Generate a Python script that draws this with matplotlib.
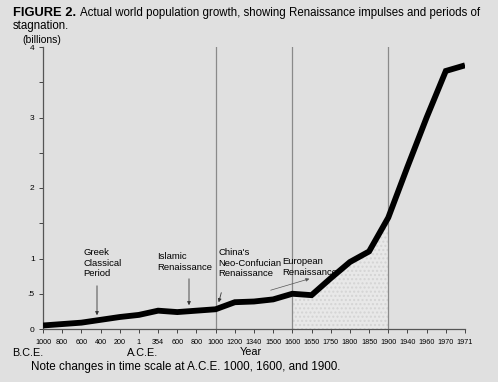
import matplotlib
matplotlib.use("Agg")
import matplotlib.pyplot as plt
import numpy as np

plt.rcParams['font.family'] = ['Liberation Sans', 'DejaVu Sans']

tick_labels = ['1000', '800', '600', '400', '200', '1', '354', '600', '800', '1000',
               '1200', '1340', '1500', '1600', '1650', '1750', '1800', '1850', '1900',
               '1940', '1960', '1970', '1971']
population = [0.05, 0.07, 0.09, 0.13, 0.17, 0.20, 0.26, 0.24, 0.26, 0.28,
              0.38, 0.39, 0.42, 0.50, 0.48, 0.72, 0.95, 1.10, 1.58,
              2.30, 3.00, 3.66, 3.74]
scale_changes = ['1000', '1600', '1900']
ytick_vals = [0, 0.5, 1, 1.5, 2, 2.5, 3, 3.5, 4]
ytick_text = ['0', '.5', '1', '', '2', '', '3', '', '4']

bg = '#e0e0e0'
fig = plt.figure(figsize=(4.98, 3.82), dpi=100, facecolor=bg)
ax = fig.add_axes([43/498, 1-329/382, (465-43)/498, (329-47)/382])
ax.set_facecolor(bg)

x = np.arange(len(tick_labels))
i1600 = tick_labels.index('1600')
i1900 = tick_labels.index('1900')
ax.fill_between(x[i1600:i1900+1], 0, population[i1600:i1900+1],
                facecolor='#e8e8e8', edgecolor='#d4d4d4', hatch='....', linewidth=0)

for lab_idx in [9, i1600, i1900]:
    ax.axvline(lab_idx, color='#8a8a8a', lw=0.9, zorder=1)

ax.plot(x, population, color='black', lw=4.2, solid_joinstyle='miter', solid_capstyle='butt', zorder=3)

ax.set_xlim(0, len(tick_labels)-1)
ax.set_ylim(0, 4)
ax.set_xticks(x)
ax.set_xticklabels(tick_labels, fontsize=5.2)
ax.set_yticks(ytick_vals)
ax.set_yticklabels(ytick_text, fontsize=6)
ax.tick_params(axis='x', length=3, width=0.7, color='#444444', pad=4)
ax.tick_params(axis='y', length=3, width=0.7, color='#444444', pad=3)
for s in ['top', 'right']:
    ax.spines[s].set_visible(False)
for s in ['left', 'bottom']:
    ax.spines[s].set_color('#555555')
    ax.spines[s].set_linewidth(0.9)

# Title
fig.text(13/498, 1-13/382, 'FIGURE 2.', fontsize=9.3, fontweight='bold', va='center', ha='left')
fig.text(80/498, 1-13/382, 'Actual world population growth, showing Renaissance impulses and periods of',
         fontsize=8.3, va='center', ha='left')
fig.text(13/498, 1-26/382, 'stagnation.', fontsize=8.3, va='center', ha='left')
fig.text(22/498, 1-40/382, '(billions)', fontsize=7.5, va='center', ha='left')

fig.text(12/498, 1-353/382, 'B.C.E.', fontsize=7.8, va='center', ha='left')
fig.text(127/498, 1-353/382, 'A.C.E.', fontsize=7.8, va='center', ha='left')
fig.text(240/498, 1-352/382, 'Year', fontsize=7.8, va='center', ha='left')
fig.text(31/498, 1-367/382, 'Note changes in time scale at A.C.E. 1000, 1600, and 1900.',
         fontsize=8.4, va='center', ha='left')

def px(xp, yp):
    return (xp/498, 1-yp/382)

arrow = dict(arrowstyle='-|>', color='#333333', lw=0.6, mutation_scale=5)
ann_fs = 6.8
ax.annotate('Greek\nClassical\nPeriod', xy=px(83, 248), xycoords='figure fraction',
            fontsize=ann_fs, va='top', ha='left', linespacing=1.25)
ax.annotate('', xy=px(97, 318), xycoords='figure fraction', xytext=px(97, 283),
            textcoords='figure fraction', arrowprops=arrow)
ax.annotate('Islamic\nRenaissance', xy=px(157, 252), xycoords='figure fraction',
            fontsize=ann_fs, va='top', ha='left', linespacing=1.25)
ax.annotate('', xy=px(189, 308), xycoords='figure fraction', xytext=px(189, 276),
            textcoords='figure fraction', arrowprops=arrow)
ax.annotate("China's\nNeo-Confucian\nRenaissance", xy=px(218, 248), xycoords='figure fraction',
            fontsize=ann_fs, va='top', ha='left', linespacing=1.25)
ax.annotate('', xy=px(218, 305), xycoords='figure fraction', xytext=px(222, 290),
            textcoords='figure fraction', arrowprops=arrow)
ax.annotate('European\nRenaissance', xy=px(282, 257), xycoords='figure fraction',
            fontsize=ann_fs, va='top', ha='left', linespacing=1.25)
ax.annotate('', xy=px(312, 278), xycoords='figure fraction', xytext=px(268, 291),
            textcoords='figure fraction', arrowprops=dict(arrowstyle='-|>', color='#555555', lw=0.5, mutation_scale=5))

fig.savefig('out.png', dpi=100, facecolor=bg)
